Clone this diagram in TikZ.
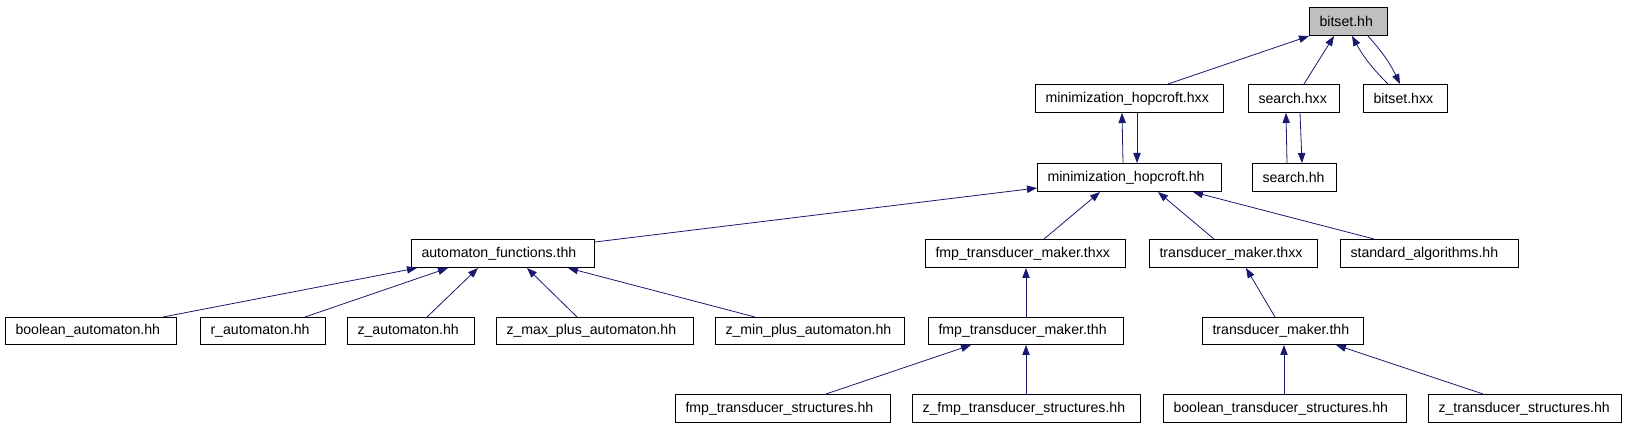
\documentclass[tikz,border=0pt]{standalone}
\usepackage{fontspec}
\setmainfont{Liberation Sans}
\usetikzlibrary{arrows.meta,calc}
\definecolor{edgeblue}{HTML}{191970}
\definecolor{boxgray}{HTML}{BFBFBF}
\tikzset{
  box/.style={draw=black, line width=0.75pt, anchor=north west, inner xsep=7.5pt, inner ysep=0pt,
    align=left, font=\fontsize{10.6}{12}\selectfont},
  edge/.style={draw=edgeblue, line width=0.6pt, -{Triangle[length=7.5pt,width=5.5pt]}},
}
\newcommand\bx[7][]{%
  \pgfmathsetlengthmacro\bxw{(#5-#3)*0.75pt}%
  \pgfmathsetlengthmacro\bxh{(#6-#4)*0.75pt}%
  \pgfmathsetlengthmacro\bxt{(#5-#3)*0.75pt-15pt}%
  \node[box,#1,minimum width=\bxw,minimum height=\bxh,text width=\bxt] (#2) at (#3,#4) {#7};}
\begin{document}
\begin{tikzpicture}[x=0.75pt,y=-0.75pt]
\fill[white] (0,0) rectangle (1627,427);
\useasboundingbox (0,0) rectangle (1627,427);
% row 1
\bx[fill=boxgray]{bitsethh}{1309}{7}{1387}{35}{bitset.hh}
% row 2
\bx{mhxx}{1035}{84}{1223}{112}{minimization\_hopcroft.hxx}
\bx{searchhxx}{1248}{84}{1339}{112}{search.hxx}
\bx{bitsethxx}{1363}{84}{1447}{112}{bitset.hxx}
% row 3
\bx{mhh}{1037}{163}{1221}{191}{minimization\_hopcroft.hh}
\bx{searchhh}{1252}{163}{1336}{191}{search.hh}
% row 4
\bx{af}{411}{239}{594}{267}{automaton\_functions.thh}
\bx{fmpthxx}{925}{239}{1125}{267}{fmp\_transducer\_maker.thxx}
\bx{tmthxx}{1149}{239}{1317}{267}{transducer\_maker.thxx}
\bx{stdalg}{1340}{239}{1518}{267}{standard\_algorithms.hh}
% row 5
\bx{ba}{5}{317}{176}{344}{boolean\_automaton.hh}
\bx{ra}{200}{317}{325}{344}{r\_automaton.hh}
\bx{za}{347}{317}{474}{344}{z\_automaton.hh}
\bx{zmax}{496}{317}{693}{344}{z\_max\_plus\_automaton.hh}
\bx{zmin}{715}{317}{904}{344}{z\_min\_plus\_automaton.hh}
\bx{fmpthh}{928}{317}{1123}{344}{fmp\_transducer\_maker.thh}
\bx{tmthh}{1202}{317}{1363}{344}{transducer\_maker.thh}
% row 6
\bx{fmpts}{675}{394}{890}{422}{fmp\_transducer\_structures.hh}
\bx{zfmp}{912}{394}{1140}{422}{z\_fmp\_transducer\_structures.hh}
\bx{bts}{1163}{394}{1406}{422}{boolean\_transducer\_structures.hh}
\bx{zts}{1428}{394}{1621}{422}{z\_transducer\_structures.hh}
% edges
\draw[edge] ($(mhxx.north west)+(133,0)$) -- ($(bitsethh.south west)+(0,0)$);
\draw[edge] ($(searchhxx.north west)+(56,0)$) -- ($(bitsethh.south west)+(25,0)$);
\draw[edge] ($(bitsethxx.north west)+(25,0)$) to[bend left=8] ($(bitsethh.south west)+(43,0)$);
\draw[edge] ($(bitsethh.south west)+(59,0)$) to[bend left=8] ($(bitsethxx.north west)+(37,0)$);
\draw[edge] ($(mhh.north west)+(86,0)$) -- ($(mhxx.south west)+(87,0)$);
\draw[edge] ($(mhxx.south west)+(102,0)$) -- ($(mhh.north west)+(100,0)$);
\draw[edge] ($(searchhh.north west)+(35,0)$) -- ($(searchhxx.south west)+(38,0)$);
\draw[edge] ($(searchhxx.south west)+(52,0)$) -- ($(searchhh.north west)+(50,0)$);
\draw[edge] ($(af.north east)+(0,3)$) -- ($(mhh.south west)+(0,-4)$);
\draw[edge] ($(fmpthxx.north west)+(119,0)$) -- ($(mhh.south west)+(63,0)$);
\draw[edge] ($(tmthxx.north west)+(65,0)$) -- ($(mhh.south west)+(121,0)$);
\draw[edge] ($(stdalg.north west)+(34,0)$) -- ($(mhh.south west)+(156,0)$);
\draw[edge] ($(fmpthh.north west)+(98,0)$) -- ($(fmpthxx.south west)+(101,0)$);
\draw[edge] ($(tmthh.north west)+(73,0)$) -- ($(tmthxx.south west)+(97,0)$);
\draw[edge] ($(ba.north west)+(158,0)$) -- ($(af.south west)+(6,0)$);
\draw[edge] ($(ra.north west)+(105,0)$) -- ($(af.south west)+(37,0)$);
\draw[edge] ($(za.north west)+(80,0)$) -- ($(af.south west)+(67,0)$);
\draw[edge] ($(zmax.north west)+(81,0)$) -- ($(af.south west)+(116,0)$);
\draw[edge] ($(zmin.north west)+(40,0)$) -- ($(af.south west)+(157,0)$);
\draw[edge] ($(fmpts.north west)+(151,0)$) -- ($(fmpthh.south west)+(43,0)$);
\draw[edge] ($(zfmp.north west)+(114,0)$) -- ($(fmpthh.south west)+(98,0)$);
\draw[edge] ($(bts.north west)+(121,0)$) -- ($(tmthh.south west)+(82,0)$);
\draw[edge] ($(zts.north west)+(55,0)$) -- ($(tmthh.south west)+(134,0)$);
\end{tikzpicture}
\end{document}
